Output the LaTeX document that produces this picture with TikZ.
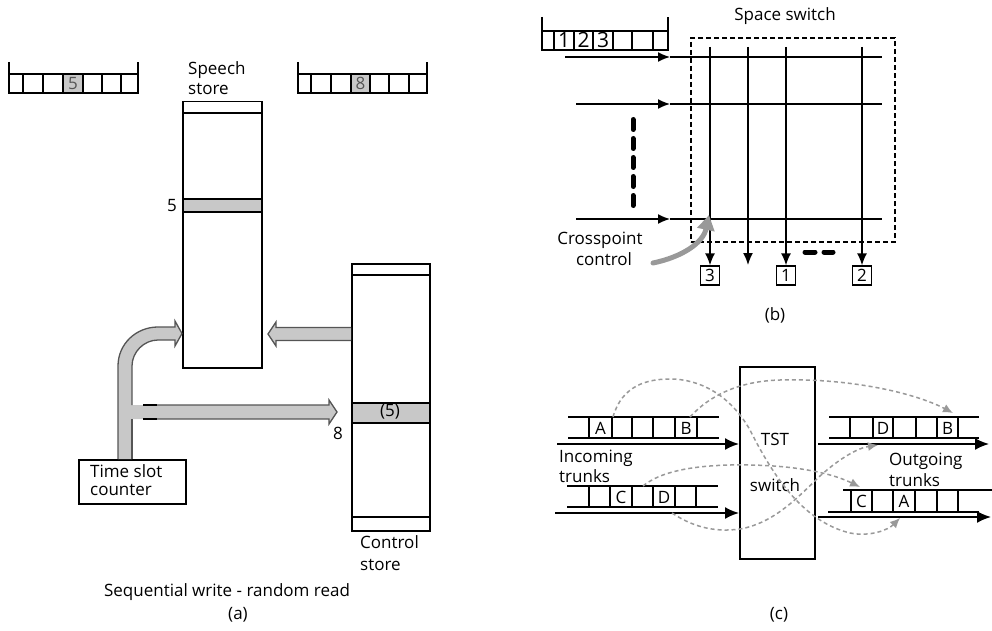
\documentclass[tikz,border=0pt]{standalone}
\usepackage{fontspec}
\setmainfont{Open Sans}
\usetikzlibrary{arrows.meta,calc}
\definecolor{bandgray}{HTML}{C8C8C8}
\definecolor{fatgray}{HTML}{C8C8C8}
\definecolor{fatedge}{HTML}{555555}
\definecolor{dgray}{HTML}{555555}
\definecolor{dashgray}{HTML}{999999}
\definecolor{arrgray}{HTML}{999999}
\begin{document}
\begin{tikzpicture}[x=1pt,y=-1pt,
 every node/.style={inner sep=0pt},
 txt/.style={font=\fontsize{17}{20}\selectfont},
 bigdig/.style={font=\fontsize{21}{24}\selectfont},
 ln/.style={line width=1.5pt},
 thn/.style={line width=1.3pt},
 store/.style={draw, line width=1.5pt},
 fatline/.style={draw=fatedge, line width=1.3pt},
 digbox/.style={draw, line width=1.3pt, minimum size=19pt, font=\fontsize{17}{20}\selectfont},
 tip/.style={-{Latex[length=12pt,width=10pt]}},
 bigtip/.style={-{Latex[length=14pt,width=12pt]}},
 gdash/.style={draw=dashgray, line width=1.5pt, dash pattern=on 4pt off 3pt, -{Latex[length=10pt,width=9pt]}},
]
\useasboundingbox (0,0) rectangle (992,631);

%% ================= (a) =================
% input frame
\fill[bandgray] (63,74) rectangle (83,93);
\draw[thn] (9,62) -- (9,93) -- (138,93) -- (138,62) (9,74) -- (138,74);
\foreach \x in {23,43,63,83,102,121} \draw[thn] (\x,74) -- (\x,93);
\node[txt, text=dgray, anchor=base] (fa5) at (73,90) {5};
% output frame
\fill[bandgray] (351,74) rectangle (370,93);
\draw[thn] (298,62) -- (298,93) -- (427,93) -- (427,62) (298,74) -- (427,74);
\foreach \x in {311,331,351,370,389,409} \draw[thn] (\x,74) -- (\x,93);
\node[txt, text=dgray, anchor=base] (fb8) at (360.5,90) {8};

% speech store
\node[txt, anchor=base west] (sst1) at (188,75) {Speech};
\node[txt, anchor=base west] (sst2) at (188,95) {store};
\node[store, minimum width=79pt, minimum height=266pt, anchor=north west] (ss) at (182,101) {};
\draw[ln] (182,113) -- (261,113);
\node[store, fill=bandgray, minimum width=79pt, minimum height=13pt, anchor=north west] (ssb) at (182,198) {};
\node[txt, anchor=base] (ss5) at (172,211) {5};

% control store
\node[store, minimum width=78pt, minimum height=267pt, anchor=north west] (cs) at (351,263) {};
\draw[ln] (351,275) -- (429,275);
\draw[ln] (351,517) -- (429,517);
\node[store, fill=bandgray, minimum width=78pt, minimum height=20pt, anchor=north west] (csb) at (351,402) {};
\node[txt] (cs5) at (390,412) {(5)};
\node[txt, anchor=base west] (cst1) at (360,548) {Control};
\node[txt, anchor=base west] (cst2) at (360,570) {store};

% time slot counter
\node[store, minimum width=107pt, minimum height=44pt, anchor=north west] (tsc) at (78,459) {};
\node[txt, anchor=base west] (tst1) at (90,477) {Time slot};
\node[txt, anchor=base west] (tst2) at (90,495) {counter};

% fat arrow: control store -> speech store
\coordinate (ca0) at (cs.west |- 0,334);
\fill[fatgray] (ca0) ++(0,-6.5) -- (276,327.5) -- (276,322) -- (268,334) -- (276,346) -- (276,340.5) -- ($(ca0)+(0,6.5)$) -- cycle;
\draw[fatline] (ca0) ++(0,-6.5) -- (276,327.5) -- (276,322) -- (268,334) -- (276,346) -- (276,340.5) -- ($(ca0)+(0,6.5)$);

% fat curved arrow: counter -> speech store
\coordinate (cv0) at (tsc.north -| 125,0);
\fill[fatgray] (118,459) -- (118,366) .. controls (118,344) and (136,327) .. (158,327) -- (175,327) -- (175,321) -- (182,333.5) -- (175,346) -- (175,340) -- (158,340) .. controls (144,340) and (132,352) .. (132,366) -- (132,459) -- cycle;
% fat horizontal arrow: counter -> control store
\fill[fatgray] (131,405) -- (329,405) -- (329,400) -- (337,412) -- (329,424) -- (329,419) -- (131,419) -- cycle;
\draw[fatline] (118,459) -- (118,366) .. controls (118,344) and (136,327) .. (158,327) -- (175,327) -- (175,321) -- (182,333.5) -- (175,346) -- (175,340) -- (158,340) .. controls (144,340) and (132,352) .. (132,366) -- (132,405);
\draw[fatline] (132,419) -- (132,459);
\draw[fatline] (157,405) -- (329,405) -- (329,400) -- (337,412) -- (329,424) -- (329,419) -- (157,419);
\draw[line width=1.3pt] (143,405) -- (157,405) (143,419) -- (157,419);
\node[txt, anchor=base] (a8) at (338,439) {8};

\node[txt, anchor=base] (capa1) at (227,596) {Sequential write - random read};
\node[txt, anchor=base] (capa) at (238,619) {(a)};

%% ================= (b) =================
\node[txt, anchor=base] (sswt) at (785,21) {Space switch};
\draw[thn] (542,17) -- (542,50) -- (668,50) -- (668,17) (542,31) -- (668,31);
\foreach \x in {554,574,593,613,632,653} \draw[thn] (\x,31) -- (\x,50);
\node[bigdig, anchor=base] (b1) at (564,48) {1};
\node[bigdig, anchor=base] (b2) at (583.5,48) {2};
\node[bigdig, anchor=base] (b3) at (603,48) {3};

\node[draw, line width=1.4pt, dash pattern=on 5pt off 3pt, minimum width=204pt, minimum height=204pt] (ssw) at (793,140) {};

% input rows
\coordinate (r1s) at (565,57);  \coordinate (r1m) at (670,57);  \coordinate (r1e) at (882,57);
\coordinate (r2s) at (576,104); \coordinate (r2m) at (670,104); \coordinate (r2e) at (882,104);
\coordinate (r3s) at (576,219); \coordinate (r3m) at (670,219); \coordinate (r3e) at (882,219);
\foreach \r in {1,2,3} {
  \draw[ln, tip] (r\r s) -- (r\r m);
  \draw[ln] (r\r m) -- (r\r e);
}
% output columns
\node[digbox] (o3) at (710,275.5) {3};
\node[digbox] (o1) at (786,275.5) {1};
\node[digbox] (o2) at (862,275.5) {2};
\coordinate (c1t) at (710,47); \coordinate (c2t) at (748,47);
\coordinate (c3t) at (786,47); \coordinate (c4t) at (862,47);
\coordinate (c2b) at (748,265);
\draw[ln, tip] (c1t) -- (o3.north);
\draw[ln, tip] (c2t) -- (c2b);
\draw[ln, tip] (c3t) -- (o1.north);
\draw[ln, tip] (c4t) -- (o2.north);
% ellipses
\draw[line width=5pt, line cap=round] (805,252) -- (815,252) (824,252) -- (833,252);
\draw[line width=5pt, line cap=round, dash pattern=on 10pt off 9pt] (633,119.5) -- (633,206);
% crosspoint control
\node[txt, anchor=base] (cp1) at (600,244) {Crosspoint};
\node[txt, anchor=base] (cp2) at (604,265) {control};
\coordinate (cpa) at (653,263);
\coordinate (cpx) at (709,215);
\draw[line width=5pt, arrgray, line cap=round, -{Triangle[length=15pt,width=17pt]}] (cpa) .. controls (682,257) and (703,243) .. (cpx);
\node[txt, anchor=base] (capb) at (775,320) {(b)};

%% ================= (c) =================
\node[store, minimum width=75pt, minimum height=192pt, anchor=north west] (tsw) at (739,366) {};
\node[txt, anchor=base] (tswt1) at (775,445) {TST};
\node[txt, anchor=base] (tswt2) at (775,491) {switch};

% incoming trunk 1
\draw[thn] (568,417) -- (719,417) (568,438) -- (719,438);
\foreach \x in {589,612,632,653,675,697} \draw[thn] (\x,417) -- (\x,438);
\node[txt, anchor=base] (iA) at (600.5,434) {A};
\node[txt, anchor=base] (iB) at (686,434) {B};
\coordinate (i1s) at (557,444);
\draw[line width=1.8pt, bigtip] (i1s) -- (i1s -| tsw.west);
% incoming trunk 2
\draw[thn] (567,486) -- (718,486) (567,507) -- (718,507);
\foreach \x in {589,610,632,653,675,696} \draw[thn] (\x,486) -- (\x,507);
\node[txt, anchor=base] (iC) at (621,503) {C};
\node[txt, anchor=base] (iD) at (664,503) {D};
\coordinate (i2s) at (555,513);
\draw[line width=1.8pt, bigtip] (i2s) -- (i2s -| tsw.west);
\node[txt, anchor=base west] (inc1) at (559,462) {Incoming};
\node[txt, anchor=base west] (inc2) at (559,482) {trunks};

% outgoing trunk 1
\draw[thn] (829,417) -- (979,417) (829,438) -- (979,438);
\foreach \x in {850,873,893,916,937,958} \draw[thn] (\x,417) -- (\x,438);
\node[txt, anchor=base] (oD) at (883,434) {D};
\node[txt, anchor=base] (oB) at (947.5,434) {B};
\coordinate (o1s) at (818,444); \coordinate (o1e) at (989,444);
\draw[line width=1.8pt, bigtip] (o1s) -- (o1e);
% outgoing trunk 2
\draw[thn] (843,490) -- (992,490) (828,512) -- (979,512);
\foreach \x in {851,872,893,915,937,958} \draw[thn] (\x,490) -- (\x,512);
\node[txt, anchor=base] (oC) at (861.5,507) {C};
\node[txt, anchor=base] (oA) at (904,507) {A};
\coordinate (o2s) at (818,517); \coordinate (o2e) at (991,517);
\draw[line width=1.8pt, bigtip] (o2s) -- (o2e);
\node[txt, anchor=base west] (out1) at (889,465) {Outgoing};
\node[txt, anchor=base west] (out2) at (889,486) {trunks};

% slot interchange paths
\coordinate (pA0) at (613,417); \coordinate (pA1) at (900,518);
\coordinate (pB0) at (690,417); \coordinate (pB1) at (953,413);
\coordinate (pC0) at (643,486); \coordinate (pC1) at (860,487);
\coordinate (pD0) at (672,513); \coordinate (pD1) at (878,445);
\draw[gdash] (pA0) .. controls (622,385) and (648,379) .. (670,379) .. controls (700,379) and (730,395) .. (750,430) .. controls (775,480) and (805,522) .. (850,533) .. controls (870,537) and (888,530) .. (pA1);
\draw[gdash] (pB0) .. controls (710,395) and (740,381) .. (780,380) .. controls (850,378) and (915,393) .. (pB1);
\draw[gdash] (pC0) .. controls (660,472) and (690,466) .. (730,465) .. controls (780,464) and (825,470) .. (pC1);
\draw[gdash] (pD0) .. controls (690,525) and (712,533) .. (740,529) .. controls (775,523) and (800,495) .. (820,476) .. controls (840,458) and (858,448) .. (pD1);

\node[txt, anchor=base] (capc) at (779,619) {(c)};
\end{tikzpicture}
\end{document}
